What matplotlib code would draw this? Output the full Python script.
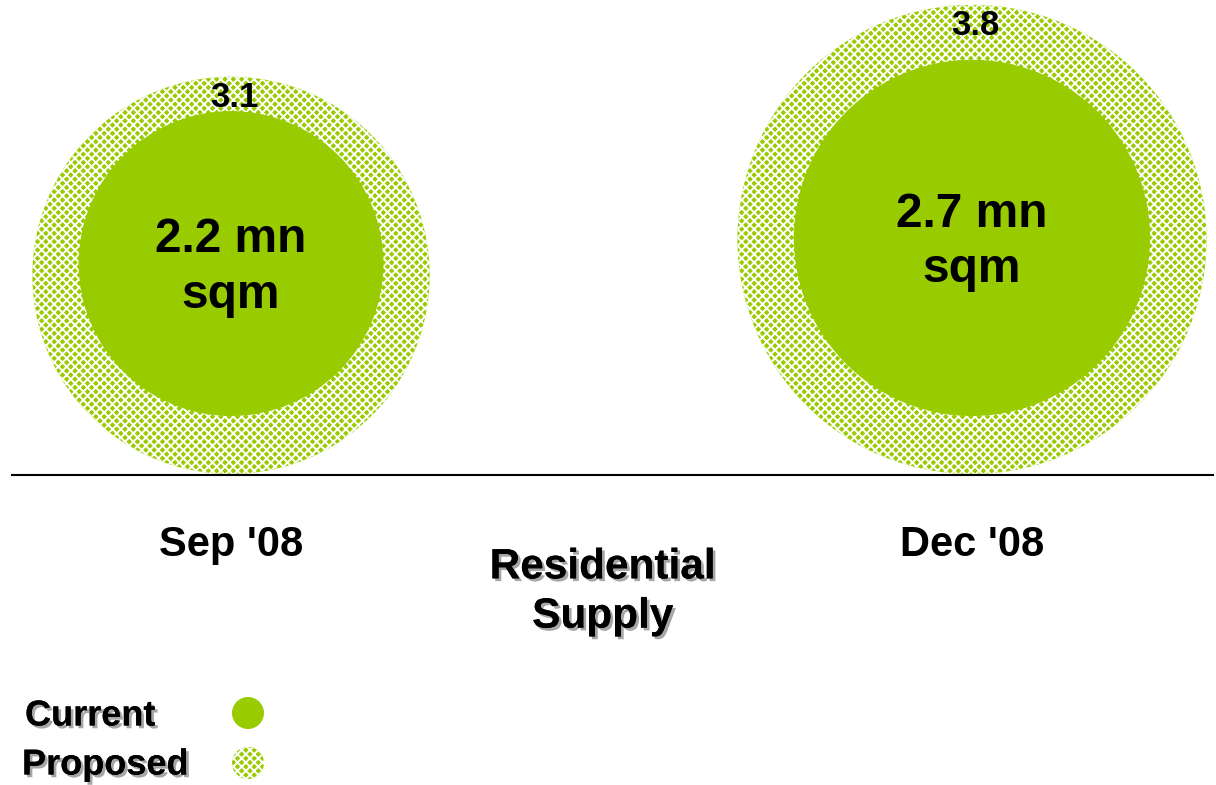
import matplotlib.pyplot as plt
from matplotlib.patches import Circle
import matplotlib.patheffects as pe

# supply figures, million sqm
periods = ["Sep '08", "Dec '08"]
current = [2.2, 2.7]
proposed = [3.1, 3.8]

GREEN = '#99cc00'
plt.rcParams['font.family'] = ['Liberation Sans', 'DejaVu Sans']
plt.rcParams['hatch.linewidth'] = 1.4

fig = plt.figure(figsize=(12.16, 7.85), dpi=100)
ax = fig.add_axes([0, 0, 1, 1])
ax.set_xlim(0, 1216)
ax.set_ylim(785, 0)
ax.axis('off')

def radius(v):
    # bubble size grows with value
    return 51.3 * v + 39.6

cx = [231, 972]
base_outer = 474
base_inner = 416

for i, p in enumerate(periods):
    r_out = radius(proposed[i])
    r_in = radius(current[i])
    ax.add_patch(Circle((cx[i], base_outer - r_out), r_out, facecolor=GREEN,
                        edgecolor='white', hatch='xxxx', lw=0))
    ax.add_patch(Circle((cx[i], base_inner - r_in), r_in, facecolor=GREEN, lw=0))
    ax.text(cx[i] + 3, base_outer - 2 * r_out + 21, f'{proposed[i]}', ha='center', va='center',
            fontsize=25, fontweight='bold')
    ax.text(cx[i], base_inner - r_in + 4, f'{current[i]} mn\nsqm', ha='center', va='center',
            fontsize=34.5, fontweight='bold', linespacing=1.3)
    ax.text(cx[i], 545, p, ha='center', va='center', fontsize=30, fontweight='bold')

ax.plot([12, 1213], [475, 475], color='black', lw=1.5)

shadow = [pe.withSimplePatchShadow(offset=(2, -2), shadow_rgbFace='#808080', alpha=0.7), pe.Normal()]
ax.text(603, 592, 'Residential\nSupply', ha='center', va='center', fontsize=30.5,
        fontweight='bold', linespacing=1.3, path_effects=shadow)

# legend
ax.text(25, 716, 'Current', ha='left', va='center', fontsize=26, fontweight='bold', path_effects=shadow)
ax.text(22, 765, 'Proposed', ha='left', va='center', fontsize=26, fontweight='bold', path_effects=shadow)
ax.add_patch(Circle((248, 713), 16, facecolor=GREEN, lw=0))
ax.add_patch(Circle((248, 763), 16, facecolor=GREEN, edgecolor='white', hatch='xxxx', lw=0))

plt.savefig('out.png', dpi=100)
